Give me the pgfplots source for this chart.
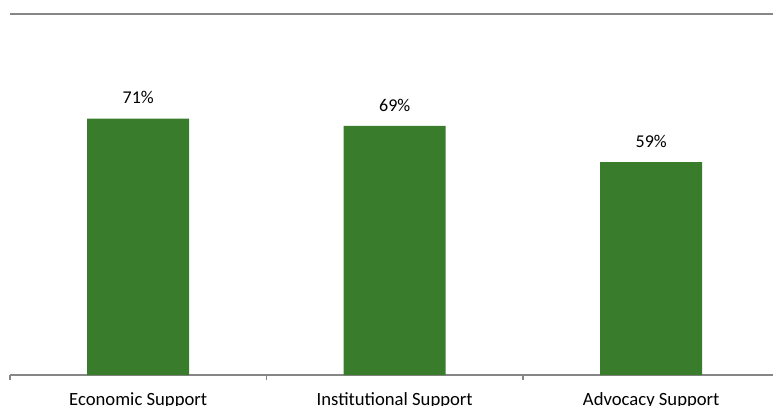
\documentclass[border=0pt]{standalone}
\usepackage{pgfplots}
\pgfplotsset{compat=1.18}
\usepackage{fontspec}
\setmainfont{Carlito}
\definecolor{bargreen}{RGB}{56,124,44}
\definecolor{axgray}{RGB}{134,134,134}
\begin{document}
\begin{tikzpicture}[font=\fontsize{14pt}{17pt}\selectfont]
\useasboundingbox (0,0) rectangle (579.75pt,303.75pt);
\clip (0,0) rectangle (579.75pt,303.75pt);
\begin{axis}[
  at={(7.5pt,22.5pt)}, anchor=south west,
  scale only axis, width=577.1pt, height=270.75pt,
  xmin=-0.5, xmax=2.5, ymin=0, ymax=100,
  axis x line*=bottom,
  y axis line style={draw=none},
  axis line style={axgray, line width=0.8pt},
  xtick={0,1,2},
  xticklabels={Economic Support, Institutional Support, Advocacy Support},
  major x tick style={draw=none},
  minor xtick={-0.5,0.5,1.5,2.5},
  minor x tick style={axgray, line width=0.8pt},
  minor tick length=3.5pt,
  tick align=outside,
  xticklabel style={yshift=-5.5pt, text=black, font=\fontsize{14pt}{17pt}\selectfont},
  ytick={100}, yticklabels={},
  ytick style={draw=none},
  ymajorgrids, grid style={axgray, line width=1pt},
  /pgf/number format/assume math mode=true,
  ybar, bar width=76.5pt,
  nodes near coords={\pgfmathprintnumber{\pgfplotspointmeta}\%},
  nodes near coords style={text=black, yshift=7.5pt, font=\fontsize{13.5pt}{16pt}\selectfont},
]
\addplot[fill=bargreen, draw=none] coordinates {(0,71) (1,69) (2,59)};
\end{axis}
\end{tikzpicture}
\end{document}
